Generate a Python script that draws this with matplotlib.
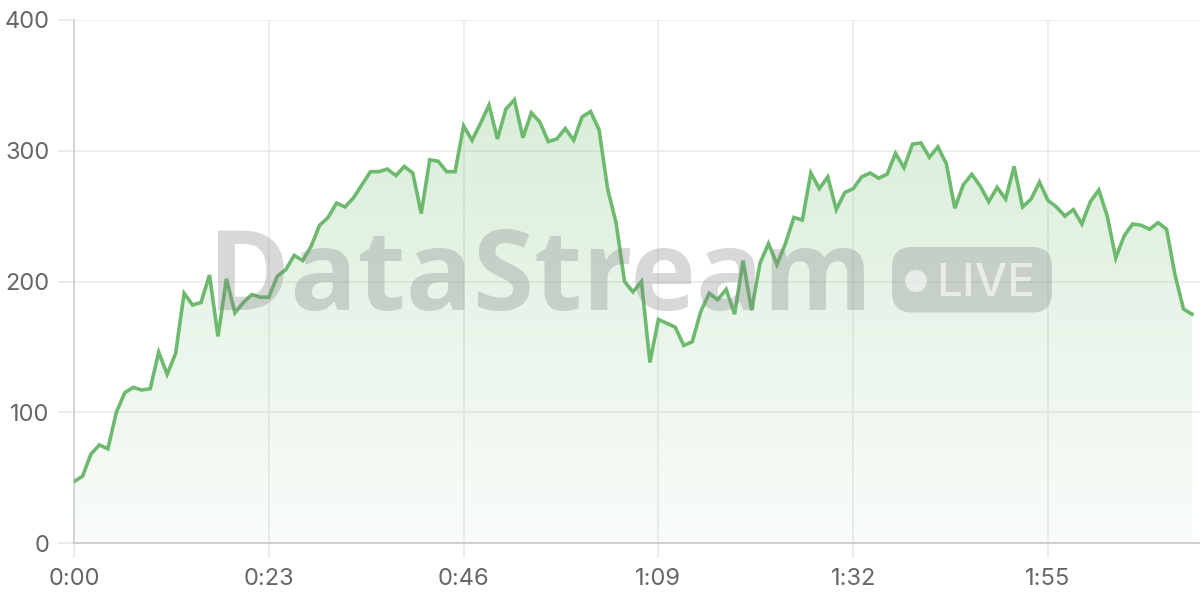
import numpy as np
import matplotlib.pyplot as plt
from matplotlib.colors import LinearSegmentedColormap
from matplotlib.patches import FancyBboxPatch, Circle

plt.rcParams['font.family'] = ['Inter', 'DejaVu Sans']

# one sample per second, 0:00 .. 2:12
seconds = np.arange(133)
values = [47, 51, 68, 75, 72, 100, 115, 119, 117, 118,
          146, 129, 145, 191, 182, 184, 205, 158, 202, 176,
          184, 190, 188, 188, 204, 209, 220, 216, 227, 243,
          249, 260, 257, 264, 274, 284, 284, 286, 281, 288,
          283, 252, 293, 292, 284, 284, 319, 308, 321, 335,
          309, 332, 339, 310, 329, 322, 307, 309, 317, 308,
          326, 330, 316, 271, 245, 200, 192, 200, 138, 171,
          168, 165, 151, 154, 177, 191, 186, 194, 175, 216,
          178, 214, 229, 213, 229, 249, 247, 283, 271, 280,
          255, 268, 271, 280, 283, 279, 282, 298, 287, 305,
          306, 295, 303, 290, 256, 274, 282, 273, 261, 272,
          263, 288, 257, 263, 276, 262, 257, 250, 255, 244,
          261, 270, 250, 218, 235, 244, 243, 240, 245, 240,
          205, 179, 175]

x_ticks = [0, 23, 46, 69, 92, 115]
y_ticks = [0, 100, 200, 300, 400]

green = '#6dba6f'

fig = plt.figure(figsize=(12, 6), dpi=100)
ax = fig.add_axes([74 / 1200, 57 / 600, 1126 / 1200, 523 / 600])

# gradient area under the line
fill = ax.fill_between(seconds, values, 0, color='none', lw=0)
cmap = LinearSegmentedColormap.from_list(
    'fade', [(0.43, 0.73, 0.44, 0.04), (0.43, 0.73, 0.44, 0.30)])
grad = np.linspace(0, 1, 256).reshape(-1, 1)
img = ax.imshow(grad, cmap=cmap, origin='lower', aspect='auto',
                extent=[0, seconds[-1], 0, 400], zorder=1)
img.set_clip_path(fill.get_paths()[0], transform=ax.transData)

ax.plot(seconds, values, color=green, lw=2.6, zorder=4, solid_joinstyle='miter')

ax.set_xlim(0, 132.95)
ax.set_ylim(0, 400)
ax.set_xticks(x_ticks)
ax.set_xticklabels([f"{t // 60}:{t % 60:02d}" for t in x_ticks])
ax.set_yticks(y_ticks)

ax.grid(True, color='#e9e9e9', lw=1.1, zorder=0)
ax.set_axisbelow(True)
for s in ['top', 'right']:
    ax.spines[s].set_visible(False)
ax.spines['left'].set_color('#d4d4d4')
ax.spines['bottom'].set_color('#cfcfcf')
ax.spines['left'].set_linewidth(1.4)
ax.spines['bottom'].set_linewidth(1.4)
ax.tick_params(axis='both', colors='#e6e6e6', labelcolor='#666666',
               labelsize=17, width=1.1)
ax.tick_params(axis='y', length=11.5, pad=6)
ax.tick_params(axis='x', length=11, pad=7)

# watermark
fig.text(540 / 1200, 1 - 310 / 600, 'DataStream', ha='center', va='baseline',
         fontsize=80, fontweight='bold', family=['Open Sans', 'DejaVu Sans'],
         color='#808080', alpha=0.3, zorder=3)
box = FancyBboxPatch((8.92, 2.875), 1.60, 0.655,
                     boxstyle='round,pad=0.0,rounding_size=0.2',
                     transform=fig.dpi_scale_trans, facecolor='#808080',
                     edgecolor='none', alpha=0.3, zorder=3)
fig.patches.append(box)
fig.patches.append(Circle((9.16, 3.19), 0.11, transform=fig.dpi_scale_trans,
                          facecolor='white', edgecolor='none', alpha=0.6, zorder=3))
fig.text(9.36 / 12, 3.04 / 6, 'LIVE', ha='left', va='baseline', fontsize=33,
         fontweight='medium', color='white', alpha=0.6, zorder=3)

fig.savefig('out.png', dpi=100)
